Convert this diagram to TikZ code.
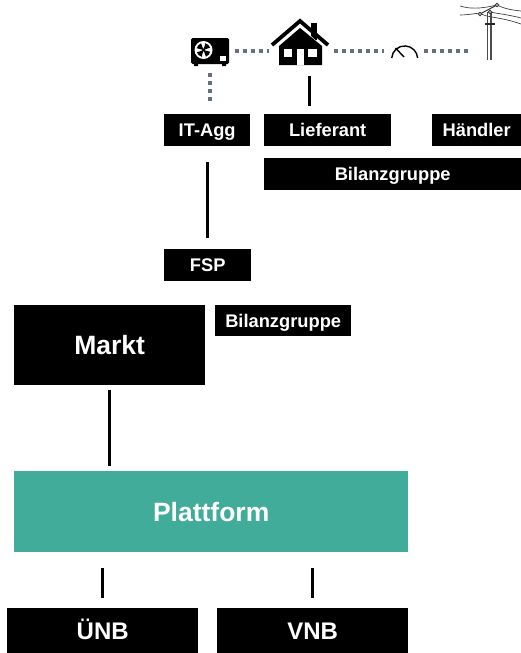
\documentclass[tikz,border=0pt]{standalone}
\usepackage{fontspec}
\setmainfont{Liberation Sans}
\tikzset{
  blackbox/.style={fill=black,text=white,font=\bfseries,inner sep=0pt,anchor=north west,text depth=0pt},
  small/.style={blackbox,font=\fontsize{18.3}{20}\bfseries\selectfont,text height=13pt},
  big/.style={blackbox,font=\fontsize{26.5}{30}\bfseries\selectfont,text height=19pt},
  mid/.style={blackbox,font=\fontsize{24}{28}\bfseries\selectfont,text height=17pt},
  conn/.style={line width=3.5pt,black},
  dots/.style={line width=4pt,color=dotgray,dash pattern=on 4pt off 4pt},
  thinl/.style={line width=0.7pt,color=black!75},
}
\definecolor{dotgray}{HTML}{66717C}
\definecolor{plat}{HTML}{41AC9A}
\begin{document}
\begin{tikzpicture}[x=1pt,y=-1pt]
\useasboundingbox (0,0) rectangle (521,653);
% boxes
\node[small,minimum width=86pt,minimum height=32pt] (itagg) at (164,114) {IT-Agg};
\node[small,minimum width=127pt,minimum height=32pt] (lief) at (264,114) {Lieferant};
\node[small,minimum width=89pt,minimum height=32pt] (haend) at (432,114) {Händler};
\node[small,minimum width=257pt,minimum height=32pt] (bg1) at (264,158) {Bilanzgruppe};
\node[small,minimum width=87pt,minimum height=32pt] (fsp) at (164,249) {FSP};
\node[small,minimum width=136pt,minimum height=31pt] (bg2) at (215,305) {Bilanzgruppe};
\node[big,minimum width=191pt,minimum height=80pt] (markt) at (14,305) {Markt};
\node[big,fill=plat,minimum width=394pt,minimum height=81pt] (plattform) at (14,471) {Plattform};
\node[mid,minimum width=191pt,minimum height=45pt] (unb) at (7,608) {ÜNB};
\node[mid,minimum width=191pt,minimum height=45pt] (vnb) at (217,608) {VNB};
% solid connectors
\draw[conn,shorten <=16pt,shorten >=11pt] (itagg.south -| fsp.north) -- (fsp.north);
\draw[conn,shorten <=5pt,shorten >=5pt] (markt.south) -- (markt.south |- plattform.north);
\draw[conn,shorten <=16pt,shorten >=10pt] (plattform.south -| unb.north) -- (unb.north);
\draw[conn,shorten <=16pt,shorten >=10pt] (plattform.south -| vnb.north) -- (vnb.north);
\coordinate (hs) at (309.5,66);
\draw[conn,shorten <=10pt,shorten >=8pt] (hs) -- (hs |- lief.north);
% dotted connectors
\draw[dots] (235,51) -- (269,51);
\draw[dots] (334,51) -- (384,51);
\draw[dots] (424,51) -- (469,51);
\draw[dots] (210,73) -- (210,102);
% air-conditioning unit
\fill[black,rounded corners=1.5pt] (191,38) rectangle (229,64);
\fill[black] (194,63) rectangle (198,66) (222,63) rectangle (226,66);
\fill[white] (203.5,50) circle (9pt);
\fill[black] (203.5,50) circle (1.6pt);
\foreach \a in {20,110,200,290}
  \fill[black] (203.5,50) -- ++(\a:7pt) arc[start angle=\a,end angle=\a+55,radius=7pt] -- cycle;
\fill[white] (220,56) rectangle (226,60.5);
% house
\fill[black] (311,23) rectangle (317,40);
\fill[white] (277,47) -- (300,26) -- (323,47) -- cycle;
\draw[black,line width=3.8pt,miter limit=10] (272,45) -- (300,21) -- (328,45);
\fill[black] (279,46) -- (300,28) -- (322,46) -- (322,65) -- (279,65) -- cycle;
\fill[white] (284,49) rectangle (292,56.5);
\fill[white] (308,49) rectangle (317,56.5);
\fill[white] (297,49) rectangle (304,65);
% meter
\draw[black,line width=1.4pt] (391.7,58) arc[start angle=176,end angle=4,radius=13pt];
\draw[black,line width=1.4pt] (395.5,48) -- (404,57);
% utility pole
\draw[black!70,line width=1.1pt] (487.5,12) -- (487.5,60) (491,12) -- (491,60);
\draw[black!85,line width=1.6pt] (484.5,24) -- (495,24);
\draw[thinl] (460,6) .. controls (470,9) and (480,9) .. (497,5);
\draw[thinl] (497,5) .. controls (505,9) and (512,10) .. (521,11);
\draw[thinl] (460,15) .. controls (466,15) and (472,14) .. (480,13);
\draw[thinl] (480,13) .. controls (486,18) and (498,16) .. (521,24);
\draw[thinl] (490,12) .. controls (500,14) and (510,15) .. (521,18);
\draw[black!80,line width=1pt] (480,14) -- (497,5);
\draw[black!80,fill=white,line width=0.9pt] (480,14) circle (1.8pt) (490,12) circle (1.8pt) (497,5) circle (1.8pt);
\end{tikzpicture}
\end{document}
